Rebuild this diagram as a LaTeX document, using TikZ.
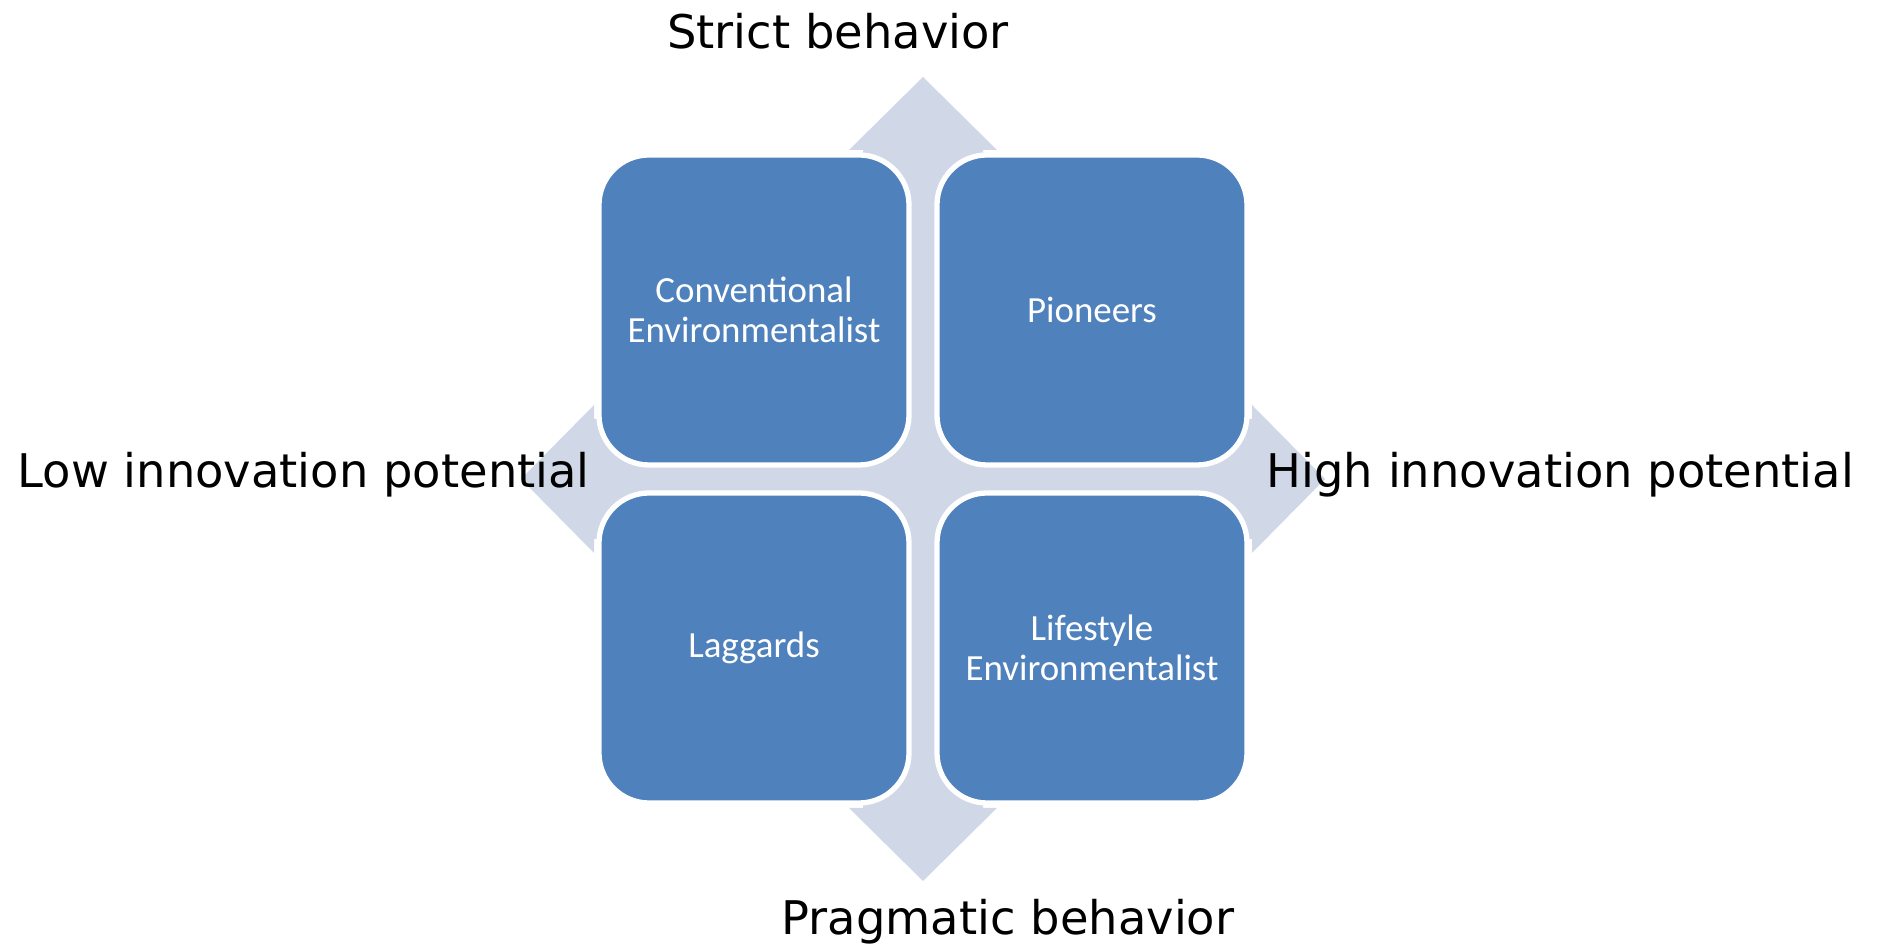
\documentclass[tikz,border=0pt]{standalone}
\usepackage{fontspec}
\setmainfont{DejaVu Sans}
\newfontfamily\quadfont{Carlito}
\usetikzlibrary{positioning}
\definecolor{quadblue}{HTML}{4F81BD}
\definecolor{crossgray}{HTML}{D0D8E8}
\tikzstyle{grid}=[node distance=3.38cm,on grid]
\tikzstyle{quad}=[rectangle,rounded corners=0.5cm,draw=white,line width=1.5pt,fill=quadblue,minimum size=3.1cm,text=white,align=center,font=\quadfont\fontsize{10.5}{11.4}\selectfont]
\tikzstyle{axlabel}=[inner sep=0pt,font=\fontsize{13.2}{15}\selectfont]

\begin{document}
\begin{tikzpicture}[grid]
  \useasboundingbox (-9.23,-4.66) rectangle (9.54,4.79);
  % four-way arrow behind the matrix
  \fill[crossgray] (-0.6,-0.6) rectangle (0.6,0.6);
  \foreach \a in {0,90,180,270}
    \fill[crossgray,rotate=\a] (-0.6,0.5) -- (-0.6,3.29) -- (-0.74,3.29) -- (0,4.02)
      -- (0.74,3.29) -- (0.6,3.29) -- (0.6,0.5) -- cycle;
  % the four quadrants
  \node[quad] (conv) at (-1.69,1.69) {Conventional\\Environmentalist};
  \node[quad] (pion) [right=of conv] {Pioneers};
  \node[quad] (lagg) [below=of conv] {Laggards};
  \node[quad] (life) [right=of lagg] {Lifestyle\\Environmentalist};
  % axis labels
  \node[axlabel,anchor=base] (strict) at (-0.85,4.30) {Strict behavior};
  \node[axlabel,anchor=base] (prag) at (0.85,-4.56) {Pragmatic behavior};
  \node[axlabel,anchor=base west] (low) at (-9.06,-0.09) {Low innovation potential};
  \node[axlabel,anchor=base west] (high) at (3.43,-0.09) {High innovation potential};
\end{tikzpicture}
\end{document}
